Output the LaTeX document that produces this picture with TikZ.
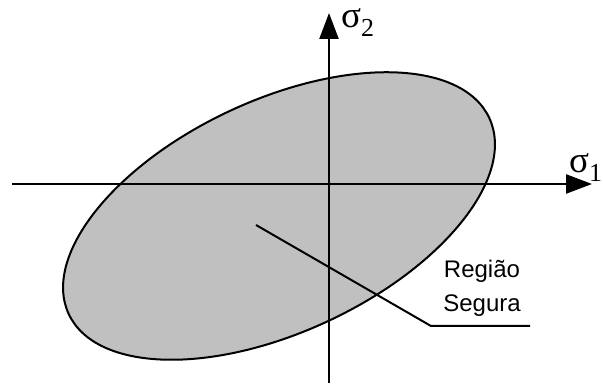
\documentclass[tikz,border=0pt]{standalone}
\usepackage{fontspec}
\setmainfont{Liberation Serif}
\newfontfamily\rotulo{Liberation Sans}
\usetikzlibrary{arrows.meta}
\definecolor{cinza}{RGB}{192,192,192}

\begin{document}
\begin{tikzpicture}[x=1pt, y=1pt, >={Triangle[length=26pt, width=19pt]},
    eixo/.style={->, line width=2.4pt},
    tensao/.style={inner sep=0pt, font=\fontsize{37}{37}\selectfont}]
    \useasboundingbox (0,0) rectangle (603,385);

    % região segura: elipse inclinada
    \filldraw[fill=cinza, line width=2pt, rotate around={25:(279,169)}]
        (279,169) ellipse (232pt and 116pt);

    % eixos sigma_1 e sigma_2
    \coordinate (esq) at (12,201);
    \coordinate (dir) at (592,201);
    \coordinate (baixo) at (329,2);
    \coordinate (topo) at (329,372);
    \draw[eixo] (esq) -- (dir);
    \draw[eixo] (baixo) -- (topo);
    \node[tensao, anchor=base west] (s1) at (569,212) {σ\textsubscript{1}};
    \node[tensao, anchor=base west] (s2) at (341,357) {σ\textsubscript{2}};

    % rótulo da região
    \node[align=center, font=\rotulo\fontsize{24}{34}\selectfont] (reg) at (482,97) {Região\\Segura};
    \coordinate (ponta) at (256,160);
    \coordinate (dobra) at (431,59);
    \coordinate (fim) at (530,59);
    \draw[line width=2pt] (ponta) -- (dobra) -- (fim);
\end{tikzpicture}
\end{document}
